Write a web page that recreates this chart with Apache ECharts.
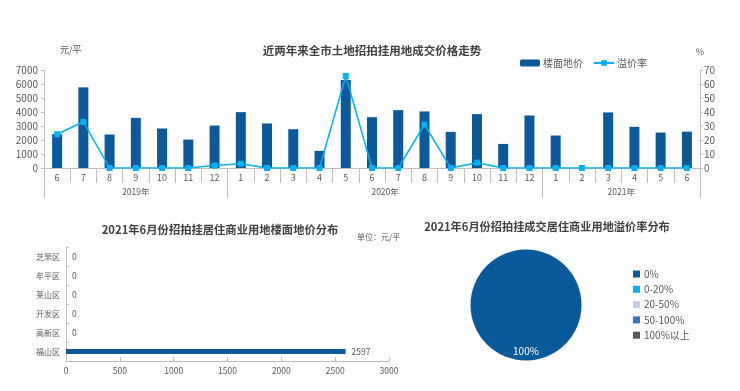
<!DOCTYPE html>
<html><head><meta charset="utf-8">
<script src="https://cdn.jsdelivr.net/npm/echarts@6/dist/echarts.min.js"></script>
<style>html,body{margin:0;padding:0;background:#fff}#c{width:740px;height:391px}</style>
</head><body><div id="c"></div>
<script>
var months = ['6','7','8','9','10','11','12','1','2','3','4','5','6','7','8','9','10','11','12','1','2','3','4','5','6'];
var years = ['2019年','2020年','2021年'];
var yearSpans = [7,12,6];
var floorPrice = [2420,5760,2390,3580,2820,2030,3030,3990,3180,2770,1220,6280,3630,4130,4040,2580,3850,1720,3750,2320,0,3970,2940,2530,2597];
var premiumRate = [24.1,33,0,0,0,0,1.7,3.1,0,0,0,65.7,0,0,31,0,3.8,0,0,0,0,0,0,0,0];
var leftTicks = {min:0,max:7000,interval:1000};
var rightTicks = {min:0,max:70,interval:10};
var districts = ['芝罘区','牟平区','莱山区','开发区','高新区','福山区'];
var districtPrice = [0,0,0,0,0,2597];
var priceTicks = {min:0,max:3000,interval:500};
var ratioBands = ['0%','0-20%','20-50%','50-100%','100%以上'];
var ratioCounts = [1,0,0,0,0];

var FONT = '"Noto Sans CJK SC","Noto Sans",sans-serif';
var GRAY = '#595959', LINE = '#bfbfbf';
var DARK = '#0a5a9b', LIGHT = '#00b0f0';
var pieColors = [DARK, LIGHT, '#c3cfe6', '#3f74bd', '#595959'];
var plain = function (v) { return String(v); };

// year axis: half-category positions (boundaryGap false), built from yearSpans
var n2 = months.length * 2 + 1;
var yearAxisData = [], yearLabelAt = {}, yearTickAt = {0:true};
var acc = 0;
for (var i = 0; i < yearSpans.length; i++) {
  var s = acc, e = acc + yearSpans[i];
  yearLabelAt[s + e] = years[i];
  yearTickAt[e * 2] = true;
  acc = e;
}
for (var k = 0; k < n2; k++) yearAxisData.push(yearLabelAt[k] || '');

var chart = echarts.init(document.getElementById('c'));
chart.setOption({
  animation: false,
  textStyle: {fontFamily: FONT},
  title: [
    {text: '近两年来全市土地招拍挂用地成交价格走势', left: 372, top: 45, textAlign: 'center', padding: 0,
     textStyle: {fontSize: 11.5, fontWeight: 'bold', color: '#404040', fontFamily: FONT}},
    {text: '2021年6月份招拍挂居住商业用地楼面地价分布', left: 220, top: 224, textAlign: 'center', padding: 0,
     textStyle: {fontSize: 11.3, fontWeight: 'bold', color: '#404040', fontFamily: FONT}},
    {text: '单位：元/平', left: 357, top: 233, padding: 0,
     textStyle: {fontSize: 8, fontWeight: 'normal', color: GRAY, fontFamily: FONT}},
    {text: '2021年6月份招拍挂成交居住商业用地溢价率分布', left: 547, top: 221, textAlign: 'center', padding: 0,
     textStyle: {fontSize: 11.2, fontWeight: 'bold', color: '#404040', fontFamily: FONT}}
  ],
  legend: [
    {data: ['楼面地价', '溢价率'], left: 515, top: 53, itemWidth: 20, itemHeight: 7, itemGap: 10,
     textStyle: {fontSize: 10, color: GRAY, padding: [0, 0, 0, -2]}},
    {data: ratioBands, orient: 'vertical', left: 628, top: 264, itemWidth: 7, itemHeight: 7, itemGap: 5.3,
     icon: 'rect', textStyle: {fontSize: 10, color: GRAY, padding: [0, 0, 0, -1]}}
  ],
  grid: [
    {left: 44, right: 40, top: 70, bottom: 223},
    {left: 66, right: 351, top: 247, bottom: 30}
  ],
  xAxis: [
    {type: 'category', gridIndex: 0, data: months, position: 'bottom',
     axisLine: {lineStyle: {color: LINE}},
     axisTick: {show: true, interval: 0, length: 15, lineStyle: {color: LINE}},
     axisLabel: {interval: 0, fontSize: 9, color: GRAY, margin: 5}},
    {type: 'category', gridIndex: 0, data: yearAxisData, boundaryGap: false, position: 'bottom',
     axisLine: {show: false},
     axisTick: {show: true, length: 30, interval: function (idx) { return !!yearTickAt[idx]; }, lineStyle: {color: LINE}},
     axisLabel: {interval: function (idx, v) { return v !== ''; }, fontSize: 8.5, color: GRAY, margin: 20}},
    {type: 'value', gridIndex: 1, min: priceTicks.min, max: priceTicks.max, interval: priceTicks.interval,
     axisLine: {show: true, lineStyle: {color: LINE}},
     axisTick: {show: true, inside: true, length: 4, lineStyle: {color: LINE}},
     splitLine: {show: false},
     axisLabel: {fontSize: 8.5, color: GRAY, margin: 6, formatter: plain}}
  ],
  yAxis: [
    {type: 'value', gridIndex: 0, min: leftTicks.min, max: leftTicks.max, interval: leftTicks.interval,
     name: '元/平', nameGap: 16, nameTextStyle: {fontSize: 9, color: GRAY, align: 'left', padding: [0, 0, 0, 16]},
     axisLine: {show: true, lineStyle: {color: LINE}},
     axisTick: {show: true, length: 3, lineStyle: {color: LINE}},
     splitLine: {show: false},
     axisLabel: {fontSize: 10, color: GRAY, margin: 6, formatter: plain}},
    {type: 'value', gridIndex: 0, position: 'right', min: rightTicks.min, max: rightTicks.max, interval: rightTicks.interval,
     name: '%', nameGap: 14, nameTextStyle: {fontSize: 9, color: GRAY},
     axisLine: {show: true, lineStyle: {color: LINE}},
     axisTick: {show: true, length: 3, lineStyle: {color: LINE}},
     splitLine: {show: false},
     axisLabel: {fontSize: 10, color: GRAY, margin: 4, formatter: plain}},
    {type: 'category', gridIndex: 1, data: districts, inverse: true,
     axisLine: {show: true, lineStyle: {color: LINE}},
     axisTick: {show: true, inside: true, length: 3, lineStyle: {color: LINE}},
     axisLabel: {fontSize: 8, color: GRAY, margin: 6}}
  ],
  series: [
    {name: '楼面地价', type: 'bar', xAxisIndex: 0, yAxisIndex: 0, data: floorPrice, barWidth: 10,
     itemStyle: {color: DARK}},
    {name: '溢价率', type: 'line', xAxisIndex: 0, yAxisIndex: 1, data: premiumRate,
     symbol: 'rect', symbolSize: 6, lineStyle: {color: LIGHT, width: 1.5}, itemStyle: {color: LIGHT}},
    {name: '楼面地价分布', type: 'bar', xAxisIndex: 2, yAxisIndex: 2, data: districtPrice, barWidth: 5,
     itemStyle: {color: DARK},
     label: {show: true, position: 'right', distance: 6, fontSize: 8.5, color: GRAY}},
    {name: '溢价率分布', type: 'pie', center: [526, 305], radius: 55.5, startAngle: 90,
     data: ratioBands.map(function (b, i) { return {name: b, value: ratioCounts[i], itemStyle: {color: pieColors[i]}}; }),
     label: {show: true, position: 'inside', fontSize: 10, color: '#fff',
       formatter: function (p) { return p.value > 0 ? p.percent + '%' : ''; }},
     labelLayout: {dy: 15},
     emphasis: {disabled: true}}
  ]
});
</script></body></html>
